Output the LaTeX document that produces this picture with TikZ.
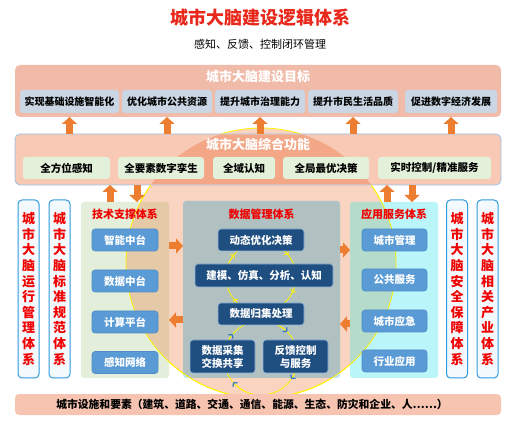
\documentclass[tikz,border=0pt]{standalone}
\usepackage{fontspec}
\setmainfont{Noto Sans CJK SC}
\usetikzlibrary{arrows.meta}
\definecolor{titlered}{HTML}{E8281A}
\definecolor{txtred}{HTML}{F00000}
\definecolor{goalbg}{HTML}{F1BBA9}
\definecolor{goalsub}{HTML}{CAD6E4}
\definecolor{funcbg}{HTML}{F8C9B5}
\definecolor{funcdark}{HTML}{F3A786}
\definecolor{funcline}{HTML}{9DC3E6}
\definecolor{funcsub}{HTML}{E3F0DA}
\definecolor{circbg}{HTML}{F9D4C0}
\definecolor{ringyel}{HTML}{FFF200}
\definecolor{techbg}{HTML}{E3EFDA}
\definecolor{techdark}{HTML}{E5CAA8}
\definecolor{databg}{HTML}{BDE5F4}
\definecolor{datadark}{HTML}{B1C1C1}
\definecolor{appbg}{HTML}{BAF5F9}
\definecolor{appdark}{HTML}{B5DCCB}
\definecolor{btnblue}{HTML}{5B9BD5}
\definecolor{btnline}{HTML}{4F8CC9}
\definecolor{navy}{HTML}{1F4E80}
\definecolor{navyline}{HTML}{8FB3DA}
\definecolor{orangeA}{HTML}{ED7D31}
\definecolor{sideline}{HTML}{2E9BDD}
\definecolor{sidefill}{HTML}{F3F9FD}
\definecolor{bottombg}{HTML}{F7C4B1}
\definecolor{cycblue}{HTML}{2E75C6}
\begin{document}
\begin{tikzpicture}[x=1pt,y=-1pt,
  base/.style={inner sep=0pt, outer sep=0pt},
  fs/.style={font=\bfseries\fontsize{#1}{#1}\selectfont},
  whitetitle/.style={base, fs=13, text=white},
  goalitem/.style={base, fill=goalsub, rounded corners=3pt, minimum height=23pt, fs=10},
  funcitem/.style={base, fill=funcsub, rounded corners=3pt, minimum height=22pt, fs=10.5},
  sidebox/.style={base, draw=sideline, line width=1pt, fill=sidefill, rounded corners=4pt,
    minimum width=21pt, minimum height=178pt, align=center, text=txtred,
    font=\bfseries\fontsize{13}{15.6}\selectfont},
  colbox/.style={base, rounded corners=3pt, minimum height=176pt},
  coltitle/.style={base, text=txtred, fs=11},
  btn/.style={base, fill=btnblue, draw=btnline, line width=0.6pt, rounded corners=3pt,
    minimum width=65pt, minimum height=22pt, text=white, fs=10.5},
  navybox/.style={base, fill=navy, draw=navyline, line width=0.6pt, rounded corners=3pt,
    minimum height=22pt, text=white, align=center, font=\bfseries\fontsize{10.5}{13}\selectfont},
  bigarr/.style={draw=orangeA, line width=7pt, -{Triangle[length=7pt,width=15pt]}},
  ring/.style={draw=ringyel, line width=0.8pt}
]
\useasboundingbox (0,0) rectangle (520,422);
\fill[white] (0,0) rectangle (520,422);

% titles
\node[base, text=titlered, font=\bfseries\fontsize{18}{18}\selectfont] (title) at (260,18) {城市大脑建设逻辑体系};
\node[base, font=\fontsize{11}{11}\selectfont] (subtitle) at (260,44) {感知、反馈、控制闭环管理};

% goals
\node[base, fill=goalbg, rounded corners=5pt, minimum width=486pt, minimum height=52pt] (goal) at (258,91) {};
\node[whitetitle] (goalt) at (258,77) {城市大脑建设目标};
\node[goalitem, minimum width=99pt] (g1) at (69.5,101.5) {实现基础设施智能化};
\node[goalitem, minimum width=90pt] (g2) at (167,101.5) {优化城市公共资源};
\node[goalitem, minimum width=90pt] (g3) at (260,101.5) {提升城市治理能力};
\node[goalitem, minimum width=90pt] (g4) at (353,101.5) {提升市民生活品质};
\node[goalitem, minimum width=92pt] (g5) at (451,101.5) {促进数字经济发展};

% big circle
\coordinate (bc) at (261,263);
\fill[circbg] (bc) circle[radius=135];
\draw[ring] (bc) circle[radius=135];

% function box
\node[base, fill=funcbg, draw=funcline, line width=0.8pt, rounded corners=5pt, minimum width=486pt, minimum height=51pt] (func) at (258,159.5) {};

% columns
\node[colbox, fill=techbg, minimum width=88pt] (tech) at (125,290) {};
\node[colbox, fill=databg, minimum width=157pt, minimum height=177pt] (data) at (261.5,289.5) {};
\node[colbox, fill=appbg, minimum width=88pt] (app) at (394,290) {};

\begin{scope}
  \clip (bc) circle[radius=135];
  \fill[funcdark, rounded corners=4pt] ([shift={(0.7,-0.7)}]func.south west) rectangle ([shift={(-0.7,0.7)}]func.north east);
  \fill[techdark, rounded corners=3pt] (tech.south west) rectangle (tech.north east);
  \fill[datadark, rounded corners=3pt] (data.south west) rectangle (data.north east);
  \fill[appdark, rounded corners=3pt] (app.south west) rectangle (app.north east);
\end{scope}
\begin{scope}
  \clip (0,186) rectangle (520,422);
  \draw[ring] (bc) circle[radius=135];
\end{scope}

% function items
\node[whitetitle] (funct) at (258,145) {城市大脑综合功能};
\node[funcitem, minimum width=87pt] (f1) at (66.5,168) {全方位感知};
\node[funcitem, minimum width=86pt] (f2) at (161,168) {全要素数字孪生};
\node[funcitem, minimum width=62pt] (f3) at (244,168) {全域认知};
\node[funcitem, minimum width=86pt] (f4) at (326,168) {全局最优决策};
\node[funcitem, minimum width=113pt] (f5) at (434.5,168) {实时控制/精准服务};

% side boxes
\node[sidebox] (s1) at (28.5,289) {城\\市\\大\\脑\\运\\行\\管\\理\\体\\系};
\node[sidebox] (s2) at (59.5,289) {城\\市\\大\\脑\\标\\准\\规\\范\\体\\系};
\node[sidebox] (s3) at (457,289) {城\\市\\大\\脑\\安\\全\\保\\障\\体\\系};
\node[sidebox] (s4) at (487.5,289) {城\\市\\大\\脑\\相\\关\\产\\业\\体\\系};

% tech column
\node[coltitle] (techt) at (125,214) {技术支撑体系};
\node[btn, minimum width=66pt] (t1) at (125,240) {智能中台};
\node[btn, minimum width=66pt] (t2) at (125,281) {数据中台};
\node[btn, minimum width=66pt] (t3) at (125,322) {计算平台};
\node[btn, minimum width=66pt] (t4) at (125,362.5) {感知网络};

% app column
\node[coltitle] (appt) at (394,214) {应用服务体系};
\node[btn] (a1) at (394.5,240) {城市管理};
\node[btn] (a2) at (394.5,280) {公共服务};
\node[btn] (a3) at (394.5,321) {城市应急};
\node[btn] (a4) at (394.5,361) {行业应用};

% data column
\node[coltitle] (datat) at (261.5,214) {数据管理体系};
\coordinate (uc) at (261,277);
\coordinate (lc) at (261,358);
\draw[ring] (uc) circle[radius=35];
\foreach \a in {220,321,27,141}
  \draw[ring, -{Straight Barb[length=2.5pt,width=6pt]}] (uc) ++(\a-22:35) arc[start angle=\a-22, end angle=\a, radius=35];
\draw[ring] (lc) circle[radius=37];
\foreach \a in {220,315,35,139}
  \draw[ring, -{Straight Barb[length=2.5pt,width=6pt,color=cycblue,line width=1.2pt]}] (lc) ++(\a-22:37) arc[start angle=\a-22, end angle=\a, radius=37];
\node[navybox, minimum width=86pt] (d1) at (261,240) {动态优化决策};
\node[navybox, minimum width=138pt, minimum height=23pt] (d2) at (264,275.5) {建模、仿真、分析、认知};
\node[navybox, minimum width=86pt] (d3) at (261,314) {数据归集处理};
\node[navybox, minimum width=65pt, minimum height=33pt] (d4) at (222.5,356.5) {数据采集\\交换共享};
\node[navybox, minimum width=65pt, minimum height=33pt] (d5) at (295.5,356.5) {反馈控制\\与服务};

% orange arrows: function -> goals
\foreach \g in {g1,g2,g3,g4,g5}
  \draw[bigarr] (\g.south |- func.north) -- (\g.south |- goal.south);

% function <-> tech / app
\coordinate (v1) at (110,0);
\coordinate (v2) at (137,0);
\coordinate (v3) at (387,0);
\coordinate (v4) at (412,0);
\draw[bigarr] (v1 |- tech.north) -- (v1 |- func.south);
\draw[bigarr] (v2 |- func.south) -- (v2 |- tech.north);
\draw[bigarr] (v3 |- app.north) -- (v3 |- func.south);
\draw[bigarr] (v4 |- func.south) -- (v4 |- app.north);

% columns horizontal
\coordinate (h1) at (0,246);
\coordinate (h2) at (0,320);
\coordinate (h3) at (0,250);
\coordinate (h4) at (0,324);
\draw[bigarr] (tech.east |- h1) -- (data.west |- h1);
\draw[bigarr] (data.west |- h2) -- (tech.east |- h2);
\draw[bigarr] (data.east |- h3) -- (app.west |- h3);
\draw[bigarr] (app.west |- h4) -- (data.east |- h4);

% bottom
\node[base, fill=bottombg, rounded corners=4pt, minimum width=486pt, minimum height=21pt] (bottom) at (258,404.5) {};
\node[base, fs=10.8] (bottomt) at (252,404.5) {城市设施和要素（建筑、道路、交通、通信、能源、生态、防灾和企业、人……）};
\end{tikzpicture}
\end{document}
